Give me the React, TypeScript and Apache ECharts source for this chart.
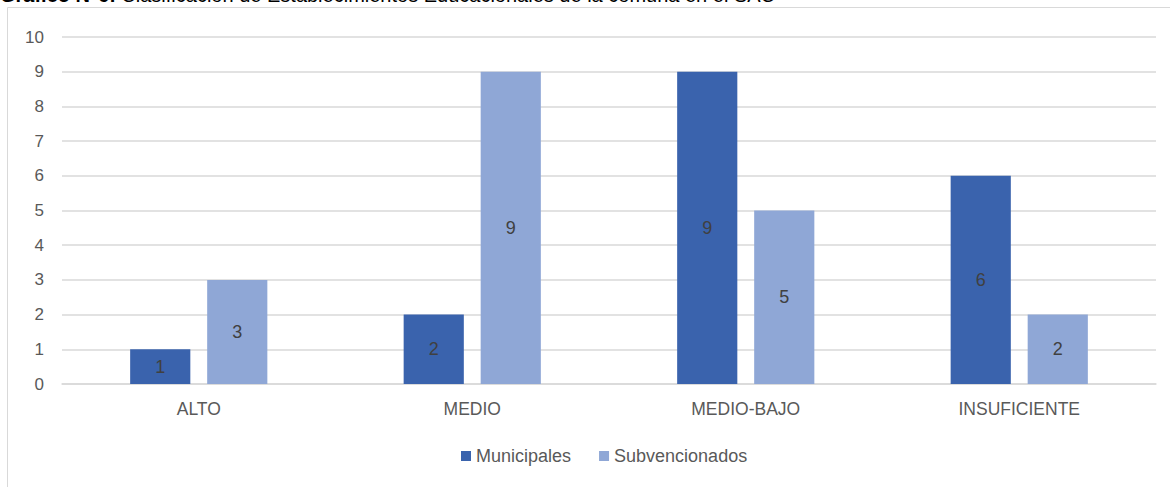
import React, { useEffect, useRef } from "react";
import * as echarts from "echarts";

const categories = ["ALTO", "MEDIO", "MEDIO-BAJO", "INSUFICIENTE"];
const municipales = [1, 2, 9, 6];
const subvencionados = [3, 9, 5, 2];
const seriesNames = ["Municipales", "Subvencionados"];

const FONT = "'Liberation Sans Narrow', 'Arial Narrow', 'Liberation Sans', Arial, sans-serif";

export default function App() {
  const ref = useRef<HTMLDivElement>(null);
  useEffect(() => {
    if (!ref.current) return;
    const chart = echarts.init(ref.current, undefined, { renderer: "svg" });
    const label = {
      show: true,
      position: "inside",
      color: "#404040",
      fontSize: 18,
      fontFamily: FONT,
    };
    chart.setOption({
      animation: false,
      textStyle: { fontFamily: FONT },
      graphic: [
        {
          type: "rect",
          shape: { x: 7.5, y: 7.5, width: 1300, height: 700 },
          style: { fill: "none", stroke: "#d9d9d9", lineWidth: 1 },
          silent: true,
        },
        {
          type: "text",
          x: 0,
          y: 5,
          style: {
            text: "{b|Gráfico N°6:} Clasificación de Establecimientos Educacionales de la comuna en el SAC",
            verticalAlign: "bottom",
            fontFamily: "'Liberation Sans', Arial, sans-serif",
            fontSize: 20,
            fill: "#000",
            rich: {
              b: { fontWeight: "bold", fontSize: 20, fontFamily: "'Liberation Sans', Arial, sans-serif" },
            },
          },
        },
      ],
      grid: { left: 62, right: 14, top: 37, bottom: 103 },
      legend: {
        data: seriesNames,
        bottom: 17,
        left: 456,
        itemWidth: 10,
        itemHeight: 10,
        itemGap: 28,
        icon: "rect",
        textStyle: { color: "#595959", fontSize: 18, fontFamily: FONT },
      },
      xAxis: {
        type: "category",
        data: categories,
        axisLine: { lineStyle: { color: "#d9d9d9", width: 1.5 } },
        axisTick: { show: false },
        axisLabel: { color: "#595959", fontSize: 17.5, margin: 16, fontFamily: FONT },
      },
      yAxis: {
        type: "value",
        min: 0,
        max: 10,
        interval: 1,
        axisLine: { show: false },
        axisTick: { show: false },
        splitLine: { lineStyle: { color: "#d9d9d9", width: 1.5 } },
        axisLabel: { color: "#595959", fontSize: 17, margin: 18, fontFamily: FONT },
      },
      series: [
        {
          name: seriesNames[0],
          type: "bar",
          data: municipales,
          barWidth: "22%",
          barGap: "28%",
          itemStyle: { color: "#3A63AD" },
          label,
        },
        {
          name: seriesNames[1],
          type: "bar",
          data: subvencionados,
          barWidth: "22%",
          itemStyle: { color: "#8FA7D6" },
          label,
        },
      ],
    });
    return () => chart.dispose();
  }, []);
  return (
    <div
      ref={ref}
      style={{ position: "absolute", left: 0, top: 0, width: 1170, height: 487, background: "#fff" }}
    />
  );
}
